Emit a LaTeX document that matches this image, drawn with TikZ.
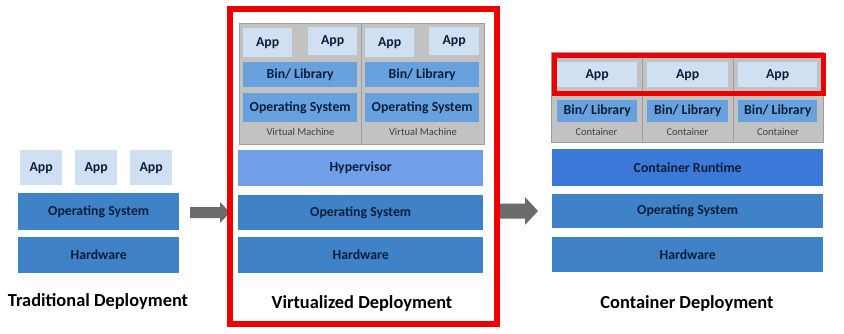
\documentclass[tikz,border=0pt]{standalone}
\usepackage{fontspec}
\setmainfont{Carlito}
\definecolor{osc}{HTML}{3F82C8}
\definecolor{binc}{HTML}{68A2DE}
\definecolor{appc}{HTML}{CFE0F2}
\definecolor{hypc}{HTML}{6E9FE8}
\definecolor{rtc}{HTML}{3B78D8}
\definecolor{grayc}{HTML}{C2C2C2}
\definecolor{grayline}{HTML}{9E9E9E}
\definecolor{labelc}{HTML}{0E1E3A}
\definecolor{arrc}{HTML}{6B6B6B}
\definecolor{redc}{HTML}{EE0000}
\begin{document}
\begin{tikzpicture}[x=1pt,y=-1pt,
  box/.style={anchor=north west, inner sep=0pt, text=labelc,
    font=\bfseries\fontsize{13.8}{13.8}\selectfont},
  osb/.style={box, fill=osc},
  binb/.style={box, fill=binc},
  appb/.style={box, fill=appc},
  hypb/.style={box, fill=hypc},
  rtb/.style={box, fill=rtc},
  grayb/.style={anchor=north west, inner sep=0pt, fill=grayc, draw=grayline, line width=0.6pt},
  small/.style={inner sep=0pt, text=black!75, font=\fontsize{10.5}{10.5}\selectfont},
  title/.style={inner sep=0pt, text=black, font=\bfseries\fontsize{18.4}{18.4}\selectfont},
  redframe/.style={draw=redc, fill=none},
  blockarrow/.style={fill=arrc, draw=none}
]
\useasboundingbox (0,0) rectangle (844,333);
\fill[white] (0,0) rectangle (844,333);

% ---------- Traditional ----------
\node[appb, minimum width=42pt, minimum height=35pt] (ta1) at (20,150) {App};
\node[appb, minimum width=42pt, minimum height=35pt] (ta2) at (75,150) {App};
\node[appb, minimum width=42pt, minimum height=35pt] (ta3) at (130,150) {App};
\node[osb, minimum width=161pt, minimum height=37pt] (tos) at (18,193) {Operating System};
\node[osb, minimum width=161pt, minimum height=36pt] (thw) at (18,237) {Hardware};
\node[title] (tt) at (98,301) {Traditional Deployment};

% ---------- Arrows ----------
\fill[blockarrow] (190,207) -- (220,207) -- (220,202) -- (230,212.5) -- (220,223) -- (220,218) -- (190,218) -- cycle;
\fill[blockarrow] (497,203.5) -- (525,203.5) -- (525,197) -- (538,211) -- (525,225) -- (525,218.5) -- (497,218.5) -- cycle;

% ---------- Virtualized ----------
\node[grayb, minimum width=245pt, minimum height=121pt] (vmarea) at (239,23) {};
\draw[grayline, line width=0.8pt] (vmarea.north) ++(-0.5,0) coordinate (dtop) -- (dtop |- vmarea.south);
\node[appb, minimum width=49pt, minimum height=29pt] (va1) at (243,28) {App};
\node[appb, minimum width=49pt, minimum height=28pt] (va2) at (308,27) {App};
\node[binb, minimum width=114pt, minimum height=25pt] (vb1) at (243,62) {Bin/ Library};
\node[binb, minimum width=114pt, minimum height=29pt] (vo1) at (243,93) {Operating System};
\node[small] (vl1) at (300.5,132) {Virtual Machine};
\node[appb, minimum width=49pt, minimum height=29pt] (va3) at (365,28) {App};
\node[appb, minimum width=50pt, minimum height=28pt] (va4) at (429,27) {App};
\node[binb, minimum width=114pt, minimum height=25pt] (vb2) at (365,62) {Bin/ Library};
\node[binb, minimum width=114pt, minimum height=29pt] (vo2) at (365,93) {Operating System};
\node[small] (vl2) at (423,132) {Virtual Machine};
\node[hypb, minimum width=245pt, minimum height=36pt] (vhyp) at (238,150) {Hypervisor};
\node[osb, minimum width=245pt, minimum height=35pt] (vos) at (238,195) {Operating System};
\node[osb, minimum width=245pt, minimum height=36pt] (vhw) at (238,237) {Hardware};
\node[title] (vt) at (362,303) {Virtualized Deployment};
\node[redframe, line width=6pt, inner sep=0pt, anchor=north west, minimum width=267pt, minimum height=315pt] (vred) at (227,6) {};

% ---------- Container ----------
\node[grayb, minimum width=272pt, minimum height=90pt] (carea) at (551,52) {};
\draw[grayline, line width=0.8pt] (642,52) coordinate (cd1) -- (cd1 |- carea.south);
\draw[grayline, line width=0.8pt] (733,52) coordinate (cd2) -- (cd2 |- carea.south);
\node[appb, minimum width=80pt, minimum height=25pt] (ca1) at (557,62) {App};
\node[appb, minimum width=81pt, minimum height=25pt] (ca2) at (647,62) {App};
\node[appb, minimum width=79pt, minimum height=25pt] (ca3) at (738,62) {App};
\node[binb, minimum width=80pt, minimum height=22pt] (cb1) at (557,100) {Bin/ Library};
\node[binb, minimum width=81pt, minimum height=22pt] (cb2) at (647,100) {Bin/ Library};
\node[binb, minimum width=79pt, minimum height=22pt] (cb3) at (738,100) {Bin/ Library};
\node[small] (cl1) at (596.5,132) {Container};
\node[small] (cl2) at (687.5,132) {Container};
\node[small] (cl3) at (778,132) {Container};
\node[redframe, line width=5pt, inner sep=0pt, anchor=north west, minimum width=269pt, minimum height=38pt] (cred) at (551.5,52.5) {};
\node[rtb, minimum width=271pt, minimum height=37pt] (crt) at (552,149) {Container Runtime};
\node[osb, minimum width=271pt, minimum height=34pt] (cos) at (552,194) {Operating System};
\node[osb, minimum width=271pt, minimum height=35pt] (chw) at (552,237) {Hardware};
\node[title] (ct) at (687,303) {Container Deployment};
\end{tikzpicture}
\end{document}
